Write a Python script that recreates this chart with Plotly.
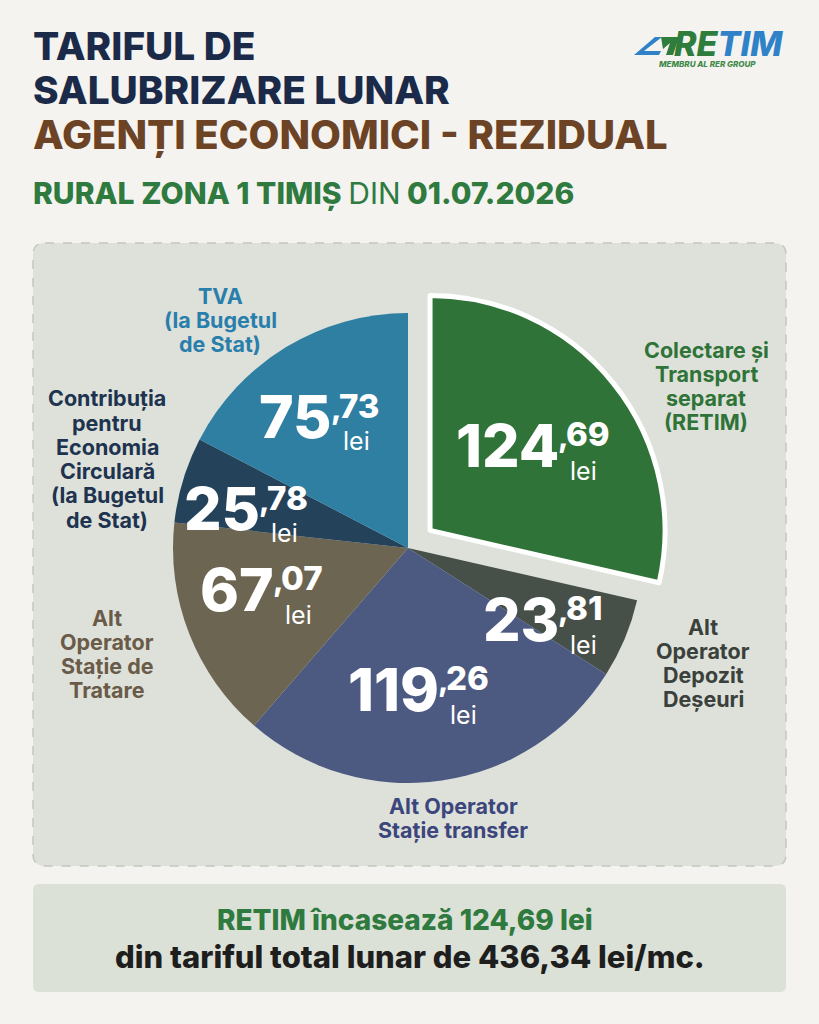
import plotly.graph_objects as go

# ---------------- data ----------------
categories = [
    "Colectare și Transport separat (RETIM)",
    "Alt Operator Depozit Deșeuri",
    "Alt Operator Stație transfer",
    "Alt Operator Stație de Tratare",
    "Contribuția pentru Economia Circulară (la Bugetul de Stat)",
    "TVA (la Bugetul de Stat)",
]
values = [124.69, 23.81, 119.26, 67.07, 25.78, 75.73]
outer_labels = [
    ["Colectare și", "Transport", "separat", "(RETIM)"],
    ["Alt", "Operator", "Depozit", "Deșeuri"],
    ["Alt Operator", "Stație transfer"],
    ["Alt", "Operator", "Stație de", "Tratare"],
    ["Contribuția", "pentru", "Economia", "Circulară", "(la Bugetul", "de Stat)"],
    ["TVA", "(la Bugetul", "de Stat)"],
]
total_text = "436,34"
retim_text = "124,69"

# ---------------- styles ----------------
W, H = 819, 1024
slice_colors = ["#2f7338", "#474f49", "#4c5980", "#6c6552", "#24425a", "#2e7fa2"]
label_colors = ["#2f7338", "#3a403c", "#3c467c", "#6a5a48", "#1d3350", "#2a7eab"]
pulls = [0.12, 0, 0, 0, 0, 0]
line_w = [5, 0, 0, 0, 0, 0]

# pie geometry (pixels)
cx, cy, r = 408, 548, 235
box = r * (2 + 2 * max(pulls))
dom_x = [(cx - box / 2) / W, (cx + box / 2) / W]
dom_y = [(H - cy - box / 2) / H, (H - cy + box / 2) / H]

# value label anchor (joint x, cap-top y, cap-bottom y)
value_pos = [(559, 423, 468), (559, 597, 642), (439, 667, 712),
             (274, 567, 612), (260, 487, 530), (332, 395, 438)]
# outer label centers
outer_pos = [(706, 386), (703, 663), (453, 818), (107, 654), (107, 459), (220, 320)]
LINE = 24.3

FONT = "Inter, Lato, 'Open Sans', sans-serif"

fig = go.Figure()

fig.add_trace(go.Pie(
    labels=categories, values=values, sort=False, direction="clockwise",
    rotation=0, pull=pulls, textinfo="none", hoverinfo="label+value",
    marker=dict(colors=slice_colors, line=dict(color="white", width=line_w)),
    domain=dict(x=dom_x, y=dom_y), showlegend=False,
))

ann = []


def A(x, y, text, size, color, xa="left", ya="middle", weight=700, align="left", italic=False):
    ann.append(dict(x=x, y=y, xref="x", yref="y", text=text, showarrow=False,
                    xanchor=xa, yanchor=ya, align=align,
                    font=dict(family=FONT, size=size, color=color, weight=weight,
                              style="italic" if italic else "normal")))


# titles
A(31, 45, "TARIFUL DE", 38.8, "#1b2a48", weight=800)
A(31, 89, "SALUBRIZARE LUNAR", 38.8, "#1b2a48", weight=800)
A(31, 134, "AGENȚI ECONOMICI - REZIDUAL", 40, "#6d4325", weight=800)
A(31, 193, "RURAL ZONA 1 TIMIȘ <span style='font-weight:400'>DIN</span> 01.07.2026",
  30, "#2f7a3f", weight=800)

# logo
A(672, 43, "<span style='color:#2f7d3c'>RE</span><span style='color:#2f82c8'>TIM</span>",
  34, "#2f82c8", weight=800, italic=True)
A(707, 64, "MEMBRU AL RER GROUP", 8, "#3f8a4a", xa="center", weight=800, italic=True)

# value labels inside slices
for v, (xj, yt, yb) in zip(values, value_pos):
    ip, dp = f"{v:.2f}".split(".")
    A(xj + 2, (yt + yb) / 2, ip, 59, "white", xa="right", weight=800)
    A(xj - 3, yt + 13, ",", 30, "white", weight=800)
    A(xj + 5, yt + 11, dp, 33, "white", weight=800)
    A(xj + 9, yb + 3, "lei", 25, "white", weight=400)

# outer category labels
for lines, (x, y), c in zip(outer_labels, outer_pos, label_colors):
    n = len(lines)
    for i, t in enumerate(lines):
        A(x, y + (i - (n - 1) / 2) * LINE, t, 21.5, c, xa="center", align="center", weight=700)

# bottom box text
A(405, 920, f"RETIM încasează {retim_text} lei", 28, "#2f7a3f", xa="center", weight=800)
A(410, 956, f"din tariful total lunar de {total_text} lei/mc.", 31, "#1e1e1e", xa="center", weight=800)


def rrect(x0, y0, x1, y1, rad):
    return (f"M {x0+rad},{y0} L {x1-rad},{y0} Q {x1},{y0} {x1},{y0+rad} "
            f"L {x1},{y1-rad} Q {x1},{y1} {x1-rad},{y1} L {x0+rad},{y1} "
            f"Q {x0},{y1} {x0},{y1-rad} L {x0},{y0+rad} Q {x0},{y0} {x0+rad},{y0} Z")


shapes = [
    dict(type="path", path=rrect(33, 243, 786, 866, 12), xref="x", yref="y",
         fillcolor="#dde1d9", line=dict(color="#c3c7bf", width=1.5, dash="dash"), layer="below"),
    dict(type="path", path=rrect(33, 884, 786, 992, 6), xref="x", yref="y",
         fillcolor="#dce1d7", line=dict(width=0), layer="below"),
    # logo mark
    dict(type="path", path="M 634,55 L 655,37 L 662,37 L 644,51 L 661,51 L 659,55 Z",
         xref="x", yref="y", fillcolor="#2f82c8", line=dict(width=0)),
    dict(type="path", path="M 661,37 L 679,37 L 673,55 L 666,55 L 670,43 L 663,49 Z",
         xref="x", yref="y", fillcolor="#2f7d3c", line=dict(width=0)),
]

fig.update_layout(
    width=W, height=H, margin=dict(l=0, r=0, t=0, b=0),
    paper_bgcolor="#f4f3ef", plot_bgcolor="rgba(0,0,0,0)",
    xaxis=dict(range=[0, W], visible=False, fixedrange=True, domain=[0, 1]),
    yaxis=dict(range=[H, 0], visible=False, fixedrange=True, domain=[0, 1]),
    annotations=ann, shapes=shapes, showlegend=False,
)

fig.write_html("out.html", config={"displayModeBar": False})
